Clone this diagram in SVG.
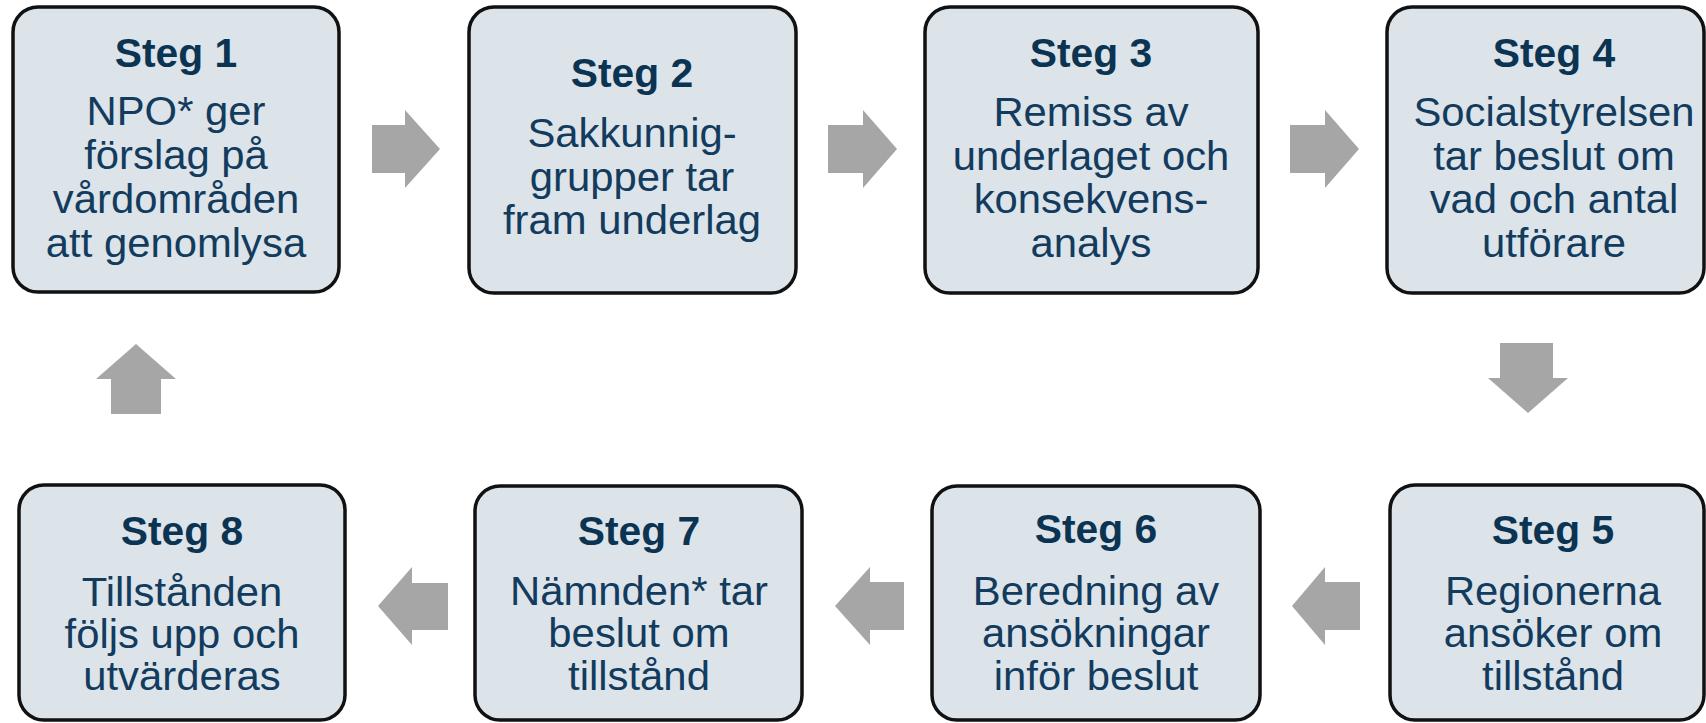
<svg xmlns="http://www.w3.org/2000/svg" width="1706" height="723" viewBox="0 0 1706 723">
<style>
.box{fill:#dce3e9;stroke:#111;stroke-width:3.5}
.t{font-family:"Liberation Sans",Arial,sans-serif;font-weight:bold;font-size:40px;fill:#0b3352;text-anchor:middle}
.b{font-family:"Liberation Sans",Arial,sans-serif;font-size:41px;fill:#123b5e;text-anchor:middle}
.arr{fill:#a6a6a6}
</style>
<rect width="1706" height="723" fill="#fff"/>
<g id="connectors">
<polygon class="arr" points="372,125 405,125 405,110 440,149 405,188 405,173 372,173"/>
<polygon class="arr" points="828,125 863,125 863,110 897,149 863,188 863,173 828,173"/>
<polygon class="arr" points="1290,125 1325,125 1325,110 1359,149 1325,188 1325,173 1290,173"/>
<polygon class="arr" points="1500,343 1553,343 1553,378 1568,378 1528,413 1488,378 1500,378"/>
<polygon class="arr" points="1360,582 1325,582 1325,567 1292,606 1325,645 1325,630 1360,630"/>
<polygon class="arr" points="904,582 870,582 870,567 835,606 870,645 870,630 904,630"/>
<polygon class="arr" points="448,583 412,583 412,567 378,606 412,645 412,630 448,630"/>
<polygon class="arr" points="111,414 161,414 161,379 176,379 136,344 96,379 111,379"/>
</g>
<g id="steg1">
<rect class="box" x="13" y="7" width="326" height="285" rx="25"/>
<g transform="translate(176,0) scale(1.02,1)">
<text class="t" x="0" y="67">Steg 1</text>
<text class="b" x="0" y="125">NPO* ger</text>
<text class="b" x="0" y="169">förslag på</text>
<text class="b" x="0" y="213">vårdområden</text>
<text class="b" x="0" y="257">att genomlysa</text>
</g>
</g>
<g id="steg2">
<rect class="box" x="469" y="7" width="327" height="286" rx="25"/>
<g transform="translate(632,0) scale(1.02,1)">
<text class="t" x="0" y="87">Steg 2</text>
<text class="b" x="0" y="147">Sakkunnig-</text>
<text class="b" x="0" y="191">grupper tar</text>
<text class="b" x="0" y="234">fram underlag</text>
</g>
</g>
<g id="steg3">
<rect class="box" x="925" y="7" width="333" height="286" rx="25"/>
<g transform="translate(1091,0) scale(1.02,1)">
<text class="t" x="0" y="67">Steg 3</text>
<text class="b" x="0" y="126">Remiss av</text>
<text class="b" x="0" y="170">underlaget och</text>
<text class="b" x="0" y="213">konsekvens-</text>
<text class="b" x="0" y="257">analys</text>
</g>
</g>
<g id="steg4">
<rect class="box" x="1387" y="7" width="317" height="286" rx="25"/>
<g transform="translate(1554,0) scale(1.02,1)">
<text class="t" x="0" y="67">Steg 4</text>
<text class="b" x="0" y="126">Socialstyrelsen</text>
<text class="b" x="0" y="170">tar beslut om</text>
<text class="b" x="0" y="213">vad och antal</text>
<text class="b" x="0" y="257">utförare</text>
</g>
</g>
<g id="steg5">
<rect class="box" x="1390" y="485" width="314" height="235" rx="25"/>
<g transform="translate(1553,0) scale(1.02,1)">
<text class="t" x="0" y="544">Steg 5</text>
<text class="b" x="0" y="605">Regionerna</text>
<text class="b" x="0" y="647">ansöker om</text>
<text class="b" x="0" y="690">tillstånd</text>
</g>
</g>
<g id="steg6">
<rect class="box" x="932" y="486" width="328" height="234" rx="25"/>
<g transform="translate(1096,0) scale(1.02,1)">
<text class="t" x="0" y="543">Steg 6</text>
<text class="b" x="0" y="605">Beredning av</text>
<text class="b" x="0" y="647">ansökningar</text>
<text class="b" x="0" y="690">inför beslut</text>
</g>
</g>
<g id="steg7">
<rect class="box" x="475" y="486" width="327" height="234" rx="25"/>
<g transform="translate(639,0) scale(1.02,1)">
<text class="t" x="0" y="545">Steg 7</text>
<text class="b" x="0" y="605">Nämnden* tar</text>
<text class="b" x="0" y="647">beslut om</text>
<text class="b" x="0" y="690">tillstånd</text>
</g>
</g>
<g id="steg8">
<rect class="box" x="19" y="485" width="326" height="235" rx="25"/>
<g transform="translate(182,0) scale(1.02,1)">
<text class="t" x="0" y="545">Steg 8</text>
<text class="b" x="0" y="606">Tillstånden</text>
<text class="b" x="0" y="648">följs upp och</text>
<text class="b" x="0" y="690">utvärderas</text>
</g>
</g>
</svg>
